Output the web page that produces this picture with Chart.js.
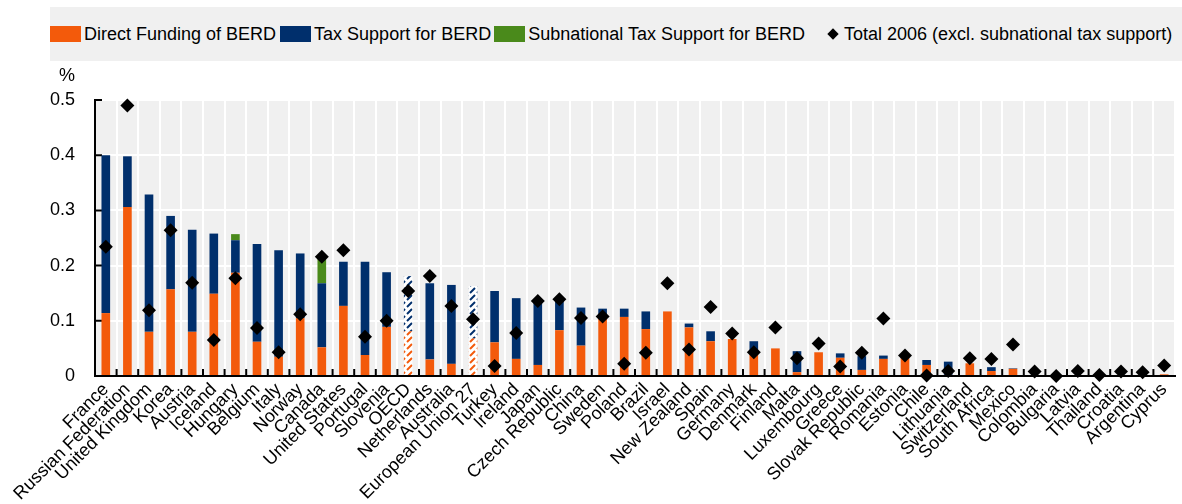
<!DOCTYPE html>
<html>
<head>
<meta charset="utf-8">
<script src="https://cdn.jsdelivr.net/npm/chart.js@4.4.1/dist/chart.umd.min.js"></script>
<style>
  html, body { margin: 0; padding: 0; background: #fff; }
  #wrap { position: relative; width: 1182px; height: 504px; overflow: hidden; font-family: "Liberation Sans", Arial, sans-serif; }
  #chart { position: absolute; left: 0; top: 0; }
  #legend { position: absolute; left: 50px; top: 7px; right: 0; height: 54px; background: #f0f0f0;
            display: flex; align-items: center; font-size: 18px; color: #000; white-space: nowrap; }
  .item { display: flex; align-items: center; }
  .box { width: 31px; height: 16px; margin-right: 3px; }
  .diamond { width: 8px; height: 8px; background: #000; transform: rotate(45deg); margin: 0 7px 0 2px; }
</style>
</head>
<body>
<div id="wrap">
  <canvas id="chart" width="1182" height="504"></canvas>
  <div id="legend"></div>
</div>
<script>
const CATEGORIES = [
  "France", "Russian Federation", "United Kingdom", "Korea", "Austria", "Iceland", "Hungary", "Belgium",
  "Italy", "Norway", "Canada", "United States", "Portugal", "Slovenia", "OECD", "Netherlands", "Australia",
  "European Union 27", "Turkey", "Ireland", "Japan", "Czech Republic", "China", "Sweden", "Poland", "Brazil",
  "Israel", "New Zealand", "Spain", "Germany", "Denmark", "Finland", "Malta", "Luxembourg", "Greece",
  "Slovak Republic", "Romania", "Estonia", "Chile", "Lithuania", "Switzerland", "South Africa", "Mexico",
  "Colombia", "Bulgaria", "Latvia", "Thailand", "Croatia", "Argentina", "Cyprus"
];

// % of GDP
const DIRECT = [
  0.114, 0.306, 0.080, 0.157, 0.080, 0.149, 0.187, 0.062, 0.035, 0.105, 0.052, 0.127, 0.038, 0.089,
  0.081, 0.030, 0.022, 0.068, 0.061, 0.031, 0.020, 0.083, 0.055, 0.110, 0.107, 0.085, 0.117, 0.088,
  0.063, 0.067, 0.045, 0.050, 0.007, 0.043, 0.033, 0.011, 0.031, 0.032, 0.020, 0.002, 0.023, 0.009,
  0.013, 0, 0.001, 0, 0, 0, 0, 0.003
];
const TAX = [
  0.286, 0.092, 0.249, 0.133, 0.185, 0.109, 0.059, 0.177, 0.193, 0.117, 0.116, 0.080, 0.169, 0.099,
  0.100, 0.138, 0.143, 0.095, 0.093, 0.110, 0.115, 0.054, 0.069, 0.012, 0.015, 0.032, 0, 0.007,
  0.018, 0, 0.018, 0, 0.038, 0, 0.008, 0.025, 0.006, 0.003, 0.009, 0.024, 0, 0.007,
  0.001, 0, 0, 0, 0, 0, 0, 0
];
const SUBNATIONAL = [
  0, 0, 0, 0, 0, 0, 0.011, 0, 0, 0, 0.047, 0, 0, 0, 0, 0, 0, 0, 0, 0, 0, 0, 0, 0, 0,
  0, 0, 0, 0, 0, 0, 0, 0, 0, 0, 0, 0, 0, 0, 0, 0, 0, 0, 0, 0, 0, 0, 0, 0, 0
];
const TOTAL_2006 = [
  0.234, 0.490, 0.119, 0.264, 0.169, 0.065, 0.177, 0.087, 0.043, 0.112, 0.216, 0.228, 0.071, 0.100,
  0.154, 0.181, 0.127, 0.103, 0.018, 0.078, 0.136, 0.139, 0.105, 0.108, 0.022, 0.042, 0.168, 0.048,
  0.125, 0.077, 0.043, 0.088, 0.032, 0.059, 0.017, 0.042, 0.104, 0.037, 0.001, 0.009, 0.032, 0.031,
  0.057, 0.008, 0.000, 0.009, 0.002, 0.008, 0.007, 0.019
];
const Y_TICKS = [0, 0.1, 0.2, 0.3, 0.4, 0.5];
const HATCHED = ["OECD", "European Union 27"];

const ORANGE = "#f35a0b";
const BLUE = "#002f6c";
const GREEN = "#4a8a1b";
const PLOT_BG = "#f0f0f0";
const FONT = '"Liberation Sans", Arial, sans-serif';

function hatch(color) {
  const c = document.createElement("canvas");
  c.width = 7;
  c.height = 7;
  const g = c.getContext("2d");
  g.fillStyle = "#fff";
  g.fillRect(0, 0, 7, 7);
  g.strokeStyle = color;
  g.lineWidth = 2;
  g.beginPath();
  g.moveTo(1, 6); g.lineTo(6, 1);
  g.stroke();
  return g.createPattern(c, "repeat");
}

function fills(color) {
  const pattern = hatch(color);
  return CATEGORIES.map((name) => (HATCHED.includes(name) ? pattern : color));
}

const LEGEND = [
  { label: "Direct Funding of BERD", color: ORANGE, gap: 4 },
  { label: "Tax Support for BERD", color: BLUE, gap: 3 },
  { label: "Subnational Tax Support for BERD", color: GREEN, gap: 22 },
  { label: "Total 2006 (excl. subnational tax support)", marker: true, gap: 0 },
];

document.getElementById("legend").innerHTML = LEGEND.map((it) => {
  const sym = it.marker ? '<span class="diamond"></span>' : `<span class="box" style="background:${it.color}"></span>`;
  return `<div class="item" style="margin-right:${it.gap}px">${sym}<span>${it.label}</span></div>`;
}).join("");

const plotDecor = {
  id: "plotDecor",
  beforeDraw(chart) {
    const { ctx, chartArea: a } = chart;
    ctx.save();
    ctx.fillStyle = PLOT_BG;
    ctx.fillRect(a.left, a.top, a.right - a.left, a.bottom - a.top);
    ctx.restore();
  },
  beforeDatasetsDraw(chart) {
    const { ctx, chartArea: a, scales: { x, y } } = chart;
    ctx.save();
    ctx.strokeStyle = "#000";
    ctx.lineWidth = 2;
    ctx.beginPath();
    Y_TICKS.forEach((v) => {
      const py = y.getPixelForValue(v);
      ctx.moveTo(a.left, py);
      ctx.lineTo(a.left + 7, py);
    });
    for (let i = 1; i < CATEGORIES.length; i++) {
      const px = x.getPixelForValue(i - 0.5);
      ctx.moveTo(px, a.bottom);
      ctx.lineTo(px, a.bottom - 7);
    }
    ctx.stroke();
    ctx.font = `18px ${FONT}`;
    ctx.fillStyle = "#000";
    ctx.textAlign = "center";
    ctx.textBaseline = "middle";
    ctx.fillText("%", a.left - 28, a.top - 24);
    ctx.restore();
  },
};

const barDefaults = { stack: "bars", barPercentage: 0.4, categoryPercentage: 1, borderWidth: 0, order: 1 };

new Chart(document.getElementById("chart"), {
  type: "bar",
  data: {
    labels: CATEGORIES,
    datasets: [
      { ...barDefaults, label: "Direct Funding of BERD", data: DIRECT, backgroundColor: fills(ORANGE) },
      { ...barDefaults, label: "Tax Support for BERD", data: TAX, backgroundColor: fills(BLUE) },
      { ...barDefaults, label: "Subnational Tax Support for BERD", data: SUBNATIONAL, backgroundColor: GREEN },
      {
        type: "line",
        label: "Total 2006 (excl. subnational tax support)",
        data: TOTAL_2006,
        stack: "total",
        showLine: false,
        clip: false,
        order: 0,
        pointStyle: "rectRot",
        pointRadius: 7,
        pointBackgroundColor: "#000",
        pointBorderColor: "#000",
        pointBorderWidth: 0,
      },
    ],
  },
  options: {
    responsive: false,
    animation: false,
    layout: { padding: { top: 100, left: 0, right: 0, bottom: 0 } },
    plugins: { legend: { display: false }, tooltip: { enabled: false } },
    scales: {
      x: {
        stacked: true,
        grid: { color: "#fff", lineWidth: 2, drawTicks: false, offset: true },
        border: { color: "#000", width: 2 },
        ticks: {
          autoSkip: false,
          minRotation: 45,
          maxRotation: 45,
          padding: 3,
          color: "#000",
          font: { family: FONT, size: 18 },
        },
        afterFit(scale) {
          scale.height = 128;
          scale.paddingLeft = 0;
          scale.paddingRight = 0;
        },
      },
      y: {
        stacked: true,
        min: 0,
        max: 0.5,
        grid: { color: "#fff", lineWidth: 2, drawTicks: false },
        border: { color: "#000", width: 2 },
        ticks: { padding: 20, color: "#000", font: { family: FONT, size: 18 } },
        afterBuildTicks(scale) {
          scale.ticks = Y_TICKS.map((v) => ({ value: v }));
        },
        afterFit(scale) {
          scale.width = 95;
        },
      },
    },
  },
  plugins: [plotDecor],
});
</script>
</body>
</html>
